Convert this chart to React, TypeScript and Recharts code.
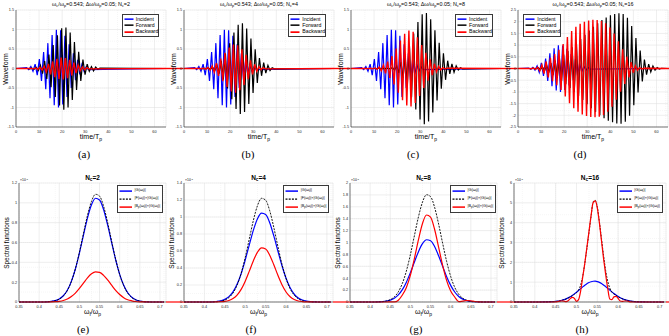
import React from 'react';
import { LineChart, Line, XAxis, YAxis, CartesianGrid, ReferenceLine } from 'recharts';

const FONT = '"Liberation Sans", Arial, Helvetica, sans-serif';
const SERIF = '"Liberation Serif", "Times New Roman", serif';
const AXIS = '#262626';
const GRID_MAJOR = '#dcdcdc';
const GRID_MINOR = '#ededed';
const BLUE = '#0000ff';
const BLACK = '#000000';
const RED = '#ff0000';

// ---------------- time-domain waveforms ----------------
// carrier ω_c/ω_p = 0.543, so successive extrema are half a carrier period apart (time in T_p)
const HALF_PERIOD = 1 / 0.543 / 2;
const TIME_END = 65;
const INCIDENT_START = 4.6;
const FORWARD_START = 5.06;
const BACKWARD_START = 4.83;

// signed extrema of each waveform, one per half period
const incidentPeaks = [
  0.02, -0.03, 0.05, -0.07, 0.11, -0.17, 0.24, -0.32, 0.42, -0.53,
  0.65, -0.76, 0.86, -0.94, 0.99, -1.0, 0.98, -0.92, 0.84, -0.73,
  0.62, -0.5, 0.39, -0.3, 0.22, -0.15, 0.1, -0.07, 0.04, -0.03,
];
const forwardNc2 = [
  0, -0.01, 0.01, -0.02, 0.03, -0.05, 0.08, -0.13, 0.19, -0.27,
  0.36, -0.48, 0.6, -0.73, 0.85, -0.95, 1.03, -1.06, 1.05, -1.0,
  0.92, -0.81, 0.68, -0.55, 0.43, -0.32, 0.23, -0.16, 0.11, -0.07,
  0.05, -0.06, 0.04, -0.02, 0.01,
];
const backwardNc2 = [
  0, 0, 0, -0.01, 0.01, -0.02, 0.03, -0.04, 0.06, -0.09,
  0.12, -0.15, 0.18, -0.22, 0.25, -0.27, 0.28, -0.28, 0.27, -0.25,
  0.22, -0.18, 0.15, -0.12, 0.09, -0.06, 0.04, -0.03, 0.02, -0.01,
];
const forwardNc4 = [
  0, 0, 0, -0.001, 0.003, -0.005, 0.01, -0.018, 0.031, -0.053,
  0.085, -0.132, 0.196, -0.28, 0.385, -0.51, 0.648, -0.79, 0.925, -1.04,
  1.12, -1.165, 1.163, -1.114, 1.025, -0.907, 0.77, -0.629, 0.494, -0.372,
  0.27, -0.187, 0.15, -0.12, 0.08, -0.05, 0.02, -0.01,
];
const backwardNc4 = [
  0.001, -0.001, 0.002, -0.005, 0.008, -0.015, 0.025, -0.041, 0.064, -0.096,
  0.139, -0.192, 0.257, -0.327, 0.402, -0.475, 0.539, -0.587, 0.615, -0.618,
  0.598, -0.555, 0.495, -0.424, 0.349, -0.275, 0.209, -0.153, 0.107, -0.072,
  0.047, -0.029, 0.017, -0.01,
];
const forwardNc8 = [
  0, 0, 0, 0, 0, 0, 0, 0, 0.001, -0.002,
  0.003, -0.005, 0.009, -0.016, 0.028, -0.046, 0.073, -0.112, 0.167, -0.241,
  0.334, -0.45, 0.587, -0.736, 0.895, -1.051, 1.194, -1.31, 1.39, -1.43,
  1.42, -1.36, 1.26, -1.13, 0.98, -0.82, 0.66, -0.52, 0.39, -0.29,
  0.2, -0.14, 0.12, -0.1, 0.07, -0.04, 0.02, -0.01,
];
const backwardNc8 = [
  0, -0.001, 0.001, -0.003, 0.005, -0.008, 0.014, -0.023, 0.037, -0.058,
  0.087, -0.126, 0.177, -0.242, 0.32, -0.411, 0.512, -0.618, 0.72, -0.814,
  0.892, -0.948, 0.977, -0.975, 0.944, -0.884, 0.803, -0.707, 0.603, -0.499,
  0.4, -0.311, 0.234, -0.171, 0.121, -0.083, 0.055, -0.035, 0.022, -0.013,
  0.008,
];
const forwardNc16 = [
  0, -0.01, 0.01, -0.02, 0.03, -0.05, 0.07, -0.1, 0.14, -0.18,
  0.23, -0.28, 0.34, -0.4, 0.46, -0.53, 0.6, -0.67, 0.75, -0.83,
  0.91, -0.99, 1.08, -1.17, 1.26, -1.35, 1.44, -1.53, 1.62, -1.7,
  1.78, -1.86, 1.93, -2.0, 2.07, -2.13, 2.18, -2.23, 2.27, -2.3,
  2.33, -2.35, 2.36, -2.36, 2.33, -2.27, 2.17, -2.02, 1.82, -1.57,
  1.3, -1.02, 0.77, -0.55, 0.38, -0.26, 0.19, -0.15, 0.11, -0.07,
  0.04, -0.02, 0.01,
];
const backwardNc16 = [
  0, -0.01, 0.02, -0.04, 0.06, -0.1, 0.15, -0.22, 0.3, -0.38,
  0.46, -0.54, 0.62, -0.71, 0.8, -0.92, 1.05, -1.2, 1.35, -1.48,
  1.6, -1.7, 1.78, -1.85, 1.91, -1.96, 2.0, -2.03, 2.05, -2.07,
  2.08, -2.08, 2.07, -2.06, 2.03, -1.99, 1.93, -1.85, 1.75, -1.63,
  1.49, -1.33, 1.16, -0.99, 0.82, -0.66, 0.51, -0.38, 0.27, -0.18,
  0.11, -0.07, 0.04, -0.02, 0.01,
];

const timeTicks = [0, 10, 20, 30, 40, 50, 60];
const waveTicksSmall = [-1.5, -1, -0.5, 0, 0.5, 1, 1.5];
const waveTicksLarge = [-2.5, -2, -1.5, -1, -0.5, 0, 0.5, 1, 1.5, 2, 2.5];

// ---------------- spectra (×10^-3) ----------------
const omegaCoarse = [
  0.35, 0.36, 0.37, 0.38, 0.39, 0.4, 0.41, 0.42, 0.43, 0.44,
  0.45, 0.46, 0.47, 0.48, 0.49, 0.5, 0.51, 0.52, 0.53, 0.54,
  0.55, 0.56, 0.57, 0.58, 0.59, 0.6, 0.61, 0.62, 0.63, 0.64,
  0.65, 0.66, 0.67, 0.68, 0.69, 0.7, 0.71,
];
const omegaFine = [
  0.35, 0.36, 0.37, 0.38, 0.39, 0.4, 0.41, 0.42, 0.43, 0.44,
  0.45, 0.455, 0.46, 0.465, 0.47, 0.475, 0.48, 0.485, 0.49, 0.495,
  0.5, 0.505, 0.51, 0.515, 0.52, 0.525, 0.53, 0.535, 0.54, 0.545,
  0.55, 0.555, 0.56, 0.565, 0.57, 0.575, 0.58, 0.585, 0.59, 0.595,
  0.6, 0.605, 0.61, 0.615, 0.62, 0.625, 0.63, 0.635, 0.64,
  0.65, 0.66, 0.67, 0.68, 0.69, 0.7, 0.71,
];
const gCoarse = [
  0, 0, 0, 0, 0, 0, 0, 0.002, 0.006, 0.014,
  0.031, 0.063, 0.119, 0.208, 0.333, 0.494, 0.673, 0.846, 0.98, 1.046,
  1.029, 0.933, 0.777, 0.6, 0.426, 0.279, 0.168, 0.093, 0.048, 0.023,
  0.01, 0.004, 0.001, 0, 0, 0, 0,
];
const gFine = [
  0, 0, 0, 0, 0, 0, 0, 0.002, 0.006, 0.014,
  0.031, 0.045, 0.063, 0.088, 0.119, 0.159, 0.208, 0.266, 0.333, 0.41,
  0.494, 0.582, 0.673, 0.762, 0.846, 0.92, 0.98, 1.023, 1.046, 1.048,
  1.029, 0.989, 0.933, 0.862, 0.777, 0.691, 0.6, 0.511, 0.426, 0.348,
  0.279, 0.219, 0.168, 0.127, 0.093, 0.068, 0.048, 0.033, 0.023,
  0.01, 0.004, 0.001, 0, 0, 0, 0,
];
const fgNc2 = [
  0, 0, 0, 0, 0, 0, 0, 0.002, 0.005, 0.013,
  0.029, 0.061, 0.116, 0.206, 0.335, 0.501, 0.69, 0.873, 1.015, 1.086,
  1.068, 0.966, 0.803, 0.613, 0.431, 0.278, 0.165, 0.09, 0.045, 0.021,
  0.009, 0.003, 0.001, 0, 0, 0, 0,
];
const bgNc2 = [
  0, 0, 0, 0, 0, 0, 0, 0, 0.001, 0.003,
  0.007, 0.015, 0.03, 0.055, 0.09, 0.137, 0.19, 0.243, 0.284, 0.304,
  0.299, 0.269, 0.222, 0.169, 0.117, 0.075, 0.044, 0.023, 0.012, 0.005,
  0.002, 0.001, 0, 0, 0, 0, 0,
];
const fgNc4 = [
  0, 0, 0, 0, 0, 0, 0, 0.001, 0.003, 0.009,
  0.023, 0.052, 0.106, 0.198, 0.337, 0.524, 0.743, 0.961, 1.134, 1.22,
  1.198, 1.073, 0.877, 0.654, 0.445, 0.276, 0.156, 0.081, 0.038, 0.016,
  0.006, 0.002, 0.001, 0, 0, 0, 0,
];
const bgNc4 = [
  0, 0, 0, 0, 0, 0, 0, 0, 0.001, 0.003,
  0.007, 0.018, 0.04, 0.081, 0.148, 0.245, 0.363, 0.486, 0.586, 0.637,
  0.624, 0.551, 0.438, 0.314, 0.203, 0.118, 0.062, 0.029, 0.012, 0.005,
  0.002, 0.001, 0, 0, 0, 0, 0,
];
const fgNc8 = [
  0, 0, 0, 0, 0, 0, 0, 0.001, 0.006, 0.016,
  0.039, 0.086, 0.171, 0.312, 0.521, 0.798, 1.118, 1.432, 1.679, 1.803,
  1.771, 1.593, 1.311, 0.988, 0.681, 0.429, 0.247, 0.131, 0.063, 0.028,
  0.011, 0.004, 0.001, 0, 0, 0, 0,
];
const bgNc8 = [
  0, 0, 0, 0, 0, 0, 0, 0, 0, 0,
  0.003, 0.001, 0.03, 0.117, 0.245, 0.452, 0.734, 1.049, 1.32, 1.462,
  1.425, 1.223, 0.923, 0.614, 0.359, 0.185, 0.084, 0.005, 0.015, 0.025,
  0.02, 0.008, 0.002, 0, 0, 0, 0,
];
const fgNc16 = [
  0, 0, 0, 0, 0, 0, 0, 0.002, 0.006, 0.013,
  0.03, 0.043, 0.06, 0.084, 0.114, 0.152, 0.2, 0.255, 0.32, 0.39,
  0.47, 0.6, 0.85, 1.3, 1.95, 2.7, 3.5, 4.3, 5.05, 5.13,
  4.8, 4.05, 3.2, 2.35, 1.6, 1.05, 0.7, 0.5, 0.4, 0.33,
  0.265, 0.21, 0.16, 0.12, 0.088, 0.064, 0.045, 0.031, 0.021,
  0.009, 0.003, 0.001, 0, 0, 0, 0,
];
const bgNc16 = [
  0, 0, 0, 0, 0, 0, 0, 0, 0, 0,
  0.005, 0.02, 0.04, 0.05, 0.04, 0.02, 0.06, 0.17, 0.23, 0.18,
  0.03, 0.12, 0.55, 1.25, 1.95, 2.75, 3.55, 4.35, 5.0, 5.1,
  4.75, 4.0, 3.1, 2.2, 1.4, 0.7, 0.15, 0.12, 0.26, 0.28,
  0.18, 0.05, 0.03, 0.05, 0.05, 0.03, 0.01, 0, 0,
  0, 0, 0, 0, 0, 0, 0,
];

const omegaTicks = [0.35, 0.4, 0.45, 0.5, 0.55, 0.6, 0.65, 0.7];
const specTicksNc2 = [0, 0.2, 0.4, 0.6, 0.8, 1, 1.2];
const specTicksNc4 = [0, 0.2, 0.4, 0.6, 0.8, 1, 1.2, 1.4];
const specTicksNc8 = [0, 0.2, 0.4, 0.6, 0.8, 1, 1.2, 1.4, 1.6, 1.8, 2];
const specTicksNc16 = [0, 1, 2, 3, 4, 5, 6];

// ---------------- helpers ----------------
type Pt = { x: number; y: number };

const wave = (start: number, peaks: number[]): Pt[] => [
  { x: 0, y: 0 },
  ...peaks.map((y, i) => ({ x: start + i * HALF_PERIOD, y })),
  { x: TIME_END, y: 0 },
];
const spectrum = (omega: number[], vals: number[]): Pt[] => omega.map((x, i) => ({ x, y: vals[i] }));

// grid-line positions for the minor grid
const steps = (a: number, b: number, s: number) => {
  const out: number[] = [];
  for (let i = 0; a + i * s <= b + 1e-9; i++) out.push(+(a + i * s).toFixed(4));
  return out;
};

const Sub = ({ children }: { children: React.ReactNode }) => (
  <span style={{ fontSize: '0.72em', position: 'relative', top: '0.3em' }}>{children}</span>
);
const Sup = ({ children }: { children: React.ReactNode }) => (
  <span style={{ fontSize: '0.72em', position: 'relative', top: '-0.4em' }}>{children}</span>
);

type Curve = { label: React.ReactNode; data: Pt[]; color: string; width: number; dash?: string; smooth?: boolean };

type FrameProps = {
  left: number;
  top: number;
  width: number;
  height: number;
  gapRight: number;
  xDomain: [number, number];
  yDomain: [number, number];
  xTicks: number[];
  yTicks: number[];
  xMinor: number[];
  yMinor: number[];
  curves: Curve[];
  tailWidth: number;
};

const YW = 20;
const XH = 10;
const MT = 2;

function Frame(p: FrameProps) {
  const span = p.xDomain[1] - p.xDomain[0];
  const tailEnd = p.xDomain[1] + (p.gapRight / p.width) * span;
  const tick = { fontSize: 3.8, fill: AXIS, fontFamily: FONT };
  const axisLine = { stroke: AXIS, strokeWidth: 0.6 };
  return (
    <div style={{ position: 'absolute', left: p.left - YW, top: p.top - MT }}>
      <LineChart
        width={YW + p.width + p.gapRight}
        height={MT + p.height + XH}
        margin={{ top: MT, right: p.gapRight, bottom: 0, left: 0 }}
      >
        <XAxis xAxisId="minor" type="number" dataKey="x" domain={p.xDomain} ticks={p.xMinor} allowDataOverflow hide />
        <YAxis yAxisId="minor" type="number" domain={p.yDomain} ticks={p.yMinor} allowDataOverflow hide />
        <XAxis
          xAxisId="frameTop"
          orientation="top"
          type="number"
          dataKey="x"
          domain={p.xDomain}
          allowDataOverflow
          height={0}
          tick={false}
          tickLine={false}
          axisLine={axisLine}
        />
        <YAxis
          yAxisId="frameRight"
          orientation="right"
          type="number"
          domain={p.yDomain}
          allowDataOverflow
          width={0}
          tick={false}
          tickLine={false}
          axisLine={axisLine}
        />
        <CartesianGrid xAxisId="minor" yAxisId="minor" stroke={GRID_MINOR} strokeWidth={0.5} strokeDasharray="1 1" />
        <CartesianGrid stroke={GRID_MAJOR} strokeWidth={0.5} />
        <XAxis
          type="number"
          dataKey="x"
          domain={p.xDomain}
          ticks={p.xTicks}
          interval={0}
          height={XH}
          tickLine={false}
          tickSize={2}
          tickMargin={1}
          tick={tick}
          axisLine={axisLine}
        />
        <YAxis
          type="number"
          domain={p.yDomain}
          ticks={p.yTicks}
          interval={0}
          width={YW}
          tickLine={false}
          tickSize={1}
          tickMargin={1}
          tick={tick}
          axisLine={axisLine}
        />
        {p.curves.map((c, i) => (
          <Line
            key={i}
            data={c.data}
            dataKey="y"
            type={c.smooth ? 'monotone' : 'linear'}
            stroke={c.color}
            strokeWidth={c.width}
            strokeDasharray={c.dash}
            dot={false}
            activeDot={false}
            isAnimationActive={false}
          />
        ))}
        <ReferenceLine
          segment={[
            { x: p.xDomain[1], y: 0 },
            { x: tailEnd, y: 0 },
          ]}
          stroke={RED}
          strokeWidth={p.tailWidth}
          ifOverflow="visible"
        />
      </LineChart>
    </div>
  );
}

function Txt(props: {
  x: number;
  y: number;
  size: number;
  children: React.ReactNode;
  bold?: boolean;
  rotate?: boolean;
  family?: string;
}) {
  return (
    <div
      style={{
        position: 'absolute',
        left: props.x,
        top: props.y,
        transform: `translate(-50%, -50%)${props.rotate ? ' rotate(-90deg)' : ''}`,
        fontSize: props.size,
        fontFamily: props.family || FONT,
        fontWeight: props.bold ? 700 : 400,
        whiteSpace: 'nowrap',
        lineHeight: 1,
        color: '#000',
      }}
    >
      {props.children}
    </div>
  );
}

function LegendBox(props: {
  x: number;
  y: number;
  width: number;
  rowH: number;
  size: number;
  sample: number;
  curves: Curve[];
}) {
  return (
    <div
      style={{
        position: 'absolute',
        left: props.x,
        top: props.y,
        width: props.width,
        border: '1px solid #3a3a3a',
        background: '#fff',
        boxSizing: 'border-box',
        padding: '1px 0',
        fontFamily: FONT,
      }}
    >
      {props.curves.map((c, i) => (
        <div key={i} style={{ display: 'flex', alignItems: 'center', height: props.rowH }}>
          <svg width={props.sample + 3} height={props.rowH} style={{ flex: 'none' }}>
            <line
              x1={1.5}
              x2={props.sample + 1.5}
              y1={props.rowH / 2}
              y2={props.rowH / 2}
              stroke={c.color}
              strokeWidth={c.width + 0.3}
              strokeDasharray={c.dash}
            />
          </svg>
          <span style={{ fontSize: props.size, lineHeight: 1, whiteSpace: 'nowrap', marginLeft: 1 }}>{c.label}</span>
        </div>
      ))}
    </div>
  );
}

// ---------------- panel layout ----------------
const TOP_Y = 10;
const TOP_H = 117;
const TOP_W = 150;
const TOP_LEFTS = [16, 184, 351, 518];

const BOT_Y = 183;
const BOT_H = 119;
const BOT_LEFTS = [19, 184, 350, 514];
const BOT_WIDTHS = [147, 149, 147, 152];

const wavePanels = [
  { nc: 2, caption: '(a)', capX: 84, fwd: forwardNc2, bwd: backwardNc2, yLim: 1.5, yTicks: waveTicksSmall, legendX: 121.7 },
  { nc: 4, caption: '(b)', capX: 248, fwd: forwardNc4, bwd: backwardNc4, yLim: 1.5, yTicks: waveTicksSmall, legendX: 288.3 },
  { nc: 8, caption: '(c)', capX: 413, fwd: forwardNc8, bwd: backwardNc8, yLim: 1.5, yTicks: waveTicksSmall, legendX: 455 },
  { nc: 16, caption: '(d)', capX: 580, fwd: forwardNc16, bwd: backwardNc16, yLim: 2.5, yTicks: waveTicksLarge, legendX: 523.3 },
];

const specPanels = [
  { nc: 2, caption: '(e)', capX: 83, omega: omegaCoarse, g: gCoarse, fg: fgNc2, bg: bgNc2, yMax: 1.2, yTicks: specTicksNc2, yMinorStep: 0.05, legendX: 117 },
  { nc: 4, caption: '(f)', capX: 251, omega: omegaCoarse, g: gCoarse, fg: fgNc4, bg: bgNc4, yMax: 1.4, yTicks: specTicksNc4, yMinorStep: 0.05, legendX: 283.3 },
  { nc: 8, caption: '(g)', capX: 416, omega: omegaCoarse, g: gCoarse, fg: fgNc8, bg: bgNc8, yMax: 2, yTicks: specTicksNc8, yMinorStep: 0.1, legendX: 450 },
  { nc: 16, caption: '(h)', capX: 582, omega: omegaFine, g: gFine, fg: fgNc16, bg: bgNc16, yMax: 6, yTicks: specTicksNc16, yMinorStep: 0.2, legendX: 616.7 },
];

const labelG = (
  <>
    |G(ω<Sub>f</Sub>)|
  </>
);
const labelFG = (
  <>
    |F(ω<Sub>f</Sub>)|×|G(ω<Sub>f</Sub>)|
  </>
);
const labelBG = (
  <>
    |B<Sub>p</Sub>(ω<Sub>f</Sub>)|×|G(ω<Sub>f</Sub>)|
  </>
);

export default function App() {
  return (
    <div
      style={{
        position: 'fixed',
        left: 0,
        top: 0,
        width: 669,
        height: 336,
        background: '#fff',
        overflow: 'hidden',
      }}
    >
      {wavePanels.map((w, i) => {
        const left = TOP_LEFTS[i];
        const next = i < 3 ? TOP_LEFTS[i + 1] : 669;
        const curves: Curve[] = [
          { label: 'Incident', data: wave(INCIDENT_START, incidentPeaks), color: BLUE, width: 1.2 },
          { label: 'Forward', data: wave(FORWARD_START, w.fwd), color: BLACK, width: 1.2 },
          { label: 'Backward', data: wave(BACKWARD_START, w.bwd), color: RED, width: 1.4 },
        ];
        return (
          <React.Fragment key={'w' + i}>
            <Frame
              left={left}
              top={TOP_Y}
              width={TOP_W}
              height={TOP_H}
              gapRight={next - (left + TOP_W)}
              xDomain={[0, TIME_END]}
              yDomain={[-w.yLim, w.yLim]}
              xTicks={timeTicks}
              yTicks={w.yTicks}
              xMinor={steps(0, TIME_END, 2)}
              yMinor={steps(-w.yLim, w.yLim, 0.1)}
              curves={curves}
              tailWidth={1.4}
            />
            <Txt x={left + TOP_W / 2} y={4.5} size={5.4}>
              ω<Sub>c</Sub>/ω<Sub>p</Sub>=0.543; Δω/ω<Sub>p</Sub>=0.05; N<Sub>c</Sub>={w.nc}
            </Txt>
            <Txt x={left - 11} y={TOP_Y + TOP_H / 2} size={7} rotate>
              Waveform
            </Txt>
            <Txt x={left + TOP_W / 2} y={137} size={7}>
              time/T<Sub>p</Sub>
            </Txt>
            <Txt x={w.capX} y={153.5} size={11} family={SERIF}>
              {w.caption}
            </Txt>
            <LegendBox x={w.legendX} y={14} width={37.5} rowH={6.3} size={5.2} sample={9} curves={curves} />
          </React.Fragment>
        );
      })}

      {specPanels.map((s, i) => {
        const left = BOT_LEFTS[i];
        const width = BOT_WIDTHS[i];
        const next = i < 3 ? BOT_LEFTS[i + 1] : 669;
        const curves: Curve[] = [
          { label: labelG, data: spectrum(s.omega, s.g), color: BLUE, width: 1.2, smooth: true },
          { label: labelFG, data: spectrum(s.omega, s.fg), color: BLACK, width: 0.9, dash: '2 1.2', smooth: true },
          { label: labelBG, data: spectrum(s.omega, s.bg), color: RED, width: 1.2, smooth: true },
        ];
        return (
          <React.Fragment key={'s' + i}>
            <Frame
              left={left}
              top={BOT_Y}
              width={width}
              height={BOT_H}
              gapRight={next - (left + width)}
              xDomain={[0.35, 0.715]}
              yDomain={[0, s.yMax]}
              xTicks={omegaTicks}
              yTicks={s.yTicks}
              xMinor={steps(0.35, 0.715, 0.01)}
              yMinor={steps(0, s.yMax, s.yMinorStep)}
              curves={curves}
              tailWidth={1.2}
            />
            <Txt x={left + width / 2} y={178} size={6.5} bold>
              N<Sub>c</Sub>={s.nc}
            </Txt>
            <Txt x={left + 5} y={BOT_Y - 2.5} size={3.4}>
              ×10<Sup>-3</Sup>
            </Txt>
            <Txt x={left - 12} y={BOT_Y + BOT_H / 2} size={6.5} rotate>
              Spectral functions
            </Txt>
            <Txt x={left + width / 2} y={312} size={7}>
              ω<Sub>f</Sub>/ω<Sub>p</Sub>
            </Txt>
            <Txt x={s.capX} y={328.5} size={11} family={SERIF}>
              {s.caption}
            </Txt>
            <LegendBox x={s.legendX} y={BOT_Y + 1.5} width={46} rowH={8.2} size={3.8} sample={12.5} curves={curves} />
          </React.Fragment>
        );
      })}
    </div>
  );
}
